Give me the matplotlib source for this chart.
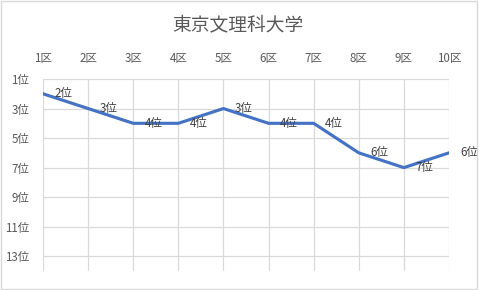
import matplotlib.pyplot as plt

plt.rcParams['font.family'] = ['Noto Sans CJK JP', 'DejaVu Sans']

title = "東京文理科大学"
sections = ["1区", "2区", "3区", "4区", "5区", "6区", "7区", "8区", "9区", "10区"]
ranks = [2, 3, 4, 4, 3, 4, 4, 6, 7, 6]
rank_ticks = [1, 3, 5, 7, 9, 11, 13]

text_color = "#595959"
grid_color = "#D9D9D9"
line_color = "#4472C4"

fig = plt.figure(figsize=(4.79, 2.90), dpi=100)
ax = fig.add_axes([43 / 479, 1 - 271 / 290, 406 / 479, 192 / 290])

x = list(range(len(sections)))
ax.plot(x, ranks, color=line_color, linewidth=2.25, solid_joinstyle='round', zorder=3)
for xi, r in zip(x, ranks):
    ax.annotate(f"{r}位", (xi, r), xytext=(8, 0), textcoords='offset points',
                ha='left', va='center', fontsize=8.3, color="#404040", zorder=4)

ax.set_xlim(0, len(sections) - 1)
ax.set_ylim(14, 1)
ax.set_xticks(x)
ax.set_xticklabels(sections)
ax.set_yticks(rank_ticks)
ax.set_yticklabels([f"{r}位" for r in rank_ticks])
ax.xaxis.tick_top()
ax.tick_params(axis='both', length=0, labelsize=8.3, labelcolor=text_color)
ax.tick_params(axis='x', pad=10)
ax.tick_params(axis='y', pad=10)
ax.grid(True, color=grid_color, linewidth=0.9)
ax.set_axisbelow(True)
for s in ax.spines.values():
    s.set_visible(False)

fig.text(0.497, 1 - 25 / 290, title, ha='center', va='center', fontsize=13.5, color=text_color)

# chart border
fig.patches.append(plt.Rectangle((0.002, 0.003), 0.994, 0.994, transform=fig.transFigure,
                                 fill=False, edgecolor=grid_color, linewidth=1))

fig.savefig("out.png", dpi=100)
